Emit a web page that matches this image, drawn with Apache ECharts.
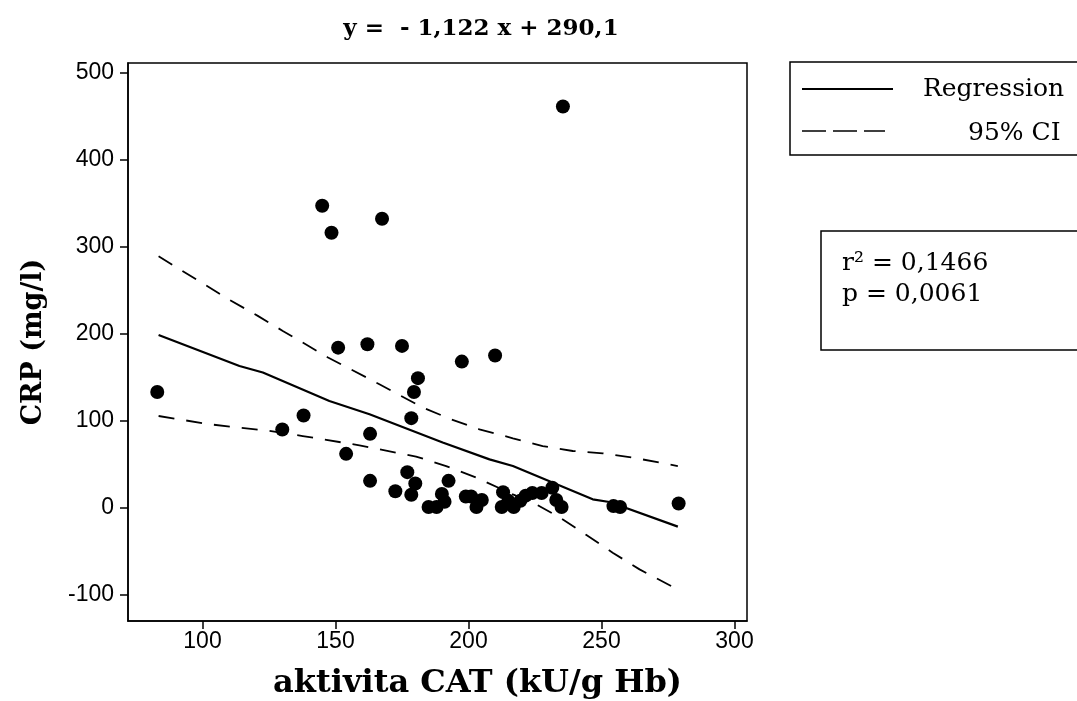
<!DOCTYPE html>
<html>
<head>
<meta charset="utf-8">
<script src="https://cdn.jsdelivr.net/npm/echarts@6/dist/echarts.min.js"></script>
<style>
  html, body { margin: 0; padding: 0; background: #fff; }
  #chart { width: 1077px; height: 701px; }
</style>
</head>
<body>
<div id="chart"></div>
<script>
// aktivita CAT (kU/g Hb) vs CRP (mg/l)
var catX = [83, 138, 130, 145, 148.5, 151, 154, 163, 162, 163, 167.5, 175, 172.5, 177, 178.5,
  178.5, 179.5, 181, 180, 185, 188, 190, 191, 192.5, 197.5, 199, 201, 203, 205, 210,
  213, 212.5, 215, 217, 219.5, 221.5, 224, 227.5, 231.5, 233, 235, 235.5, 254.5, 257, 279];
var crp = [133, 106, 90, 347, 316, 184, 62, 85, 188, 31, 332, 186, 19, 41, 15,
  103, 133, 149, 28, 1, 1, 16, 7, 31, 168, 13, 13, 1, 9, 175,
  18, 1, 8, 1, 8, 14, 17, 17, 23, 9, 1, 461, 2, 1, 5];

// regression line and 95% CI
var regX = [83.5, 113.9, 122.7, 147.7, 162.8, 190.3, 207.9, 216.7, 246.7, 253, 278.7];
var regY = [198.6, 163, 155.4, 122.8, 107.5, 75, 55.7, 48, 9.8, 6.7, -21.6];
var ciUpX = [83.5, 99.5, 110.2, 120.8, 130.2, 140.2, 147, 166.5, 182.8, 193.5, 204.1, 216.7, 227.9, 239.2, 250.5, 261.8, 278.7];
var ciUpY = [289, 258.9, 238.9, 220.5, 203.2, 185.3, 173, 142, 115.2, 101.7, 90.2, 79.9, 71, 65.3, 62.6, 57.7, 48];
var ciLoX = [83.5, 102.6, 125.2, 137.7, 159, 180.3, 191.6, 202.9, 216.7, 225.5, 234.2, 244.2, 254.2, 264.3, 278.6];
var ciLoY = [105.5, 96, 88.3, 82.5, 71.8, 58.9, 48, 34.7, 15.5, 4, -10.9, -31, -51.5, -70.7, -93.7];

var xTicks = [100, 150, 200, 250, 300];
var yTicks = [-100, 0, 100, 200, 300, 400, 500];

function pairs(xs, ys) {
  return xs.map(function (x, i) { return [x, ys[i]]; });
}

var serif = 'DejaVu Serif';
var chart = echarts.init(document.getElementById('chart'));
chart.setOption({
  animation: false,
  backgroundColor: '#fff',
  title: {
    text: 'y =  - 1,122 x + 290,1',
    left: 476, top: 13, textAlign: 'center',
    textStyle: { fontFamily: serif, fontWeight: 'bold', fontSize: 23, color: '#000' }
  },
  grid: {
    left: 128, right: 330, top: 63, bottom: 80,
    outerBoundsMode: 'none',
    show: true, borderColor: '#000', borderWidth: 1.5, backgroundColor: '#fff'
  },
  xAxis: {
    type: 'value', min: 72, max: 304.7,
    name: 'aktivita CAT (kU/g Hb)', nameLocation: 'middle', nameGap: 47,
    nameTextStyle: { fontFamily: serif, fontWeight: 'bold', fontSize: 32, color: '#000', padding: [0, 0, 0, 80] },
    axisLine: { show: true, onZero: false, lineStyle: { color: '#000', width: 1.5 } },
    axisTick: { show: true, length: 8, customValues: xTicks, lineStyle: { color: '#000', width: 1.5 } },
    axisLabel: { customValues: xTicks, margin: 9, fontFamily: 'Liberation Sans', fontSize: 23, color: '#000' },
    splitLine: { show: false }
  },
  yAxis: {
    type: 'value', min: -130, max: 511,
    name: 'CRP (mg/l)', nameLocation: 'middle', nameGap: 81, nameRotate: 90,
    nameTextStyle: { fontFamily: serif, fontWeight: 'bold', fontSize: 27, color: '#000' },
    axisLine: { show: true, onZero: false, lineStyle: { color: '#000', width: 1.5 } },
    axisTick: { show: true, length: 8, customValues: yTicks, lineStyle: { color: '#000', width: 1.5 } },
    axisLabel: { customValues: yTicks, margin: 14, fontFamily: 'Liberation Sans', fontSize: 23, color: '#000' },
    splitLine: { show: false }
  },
  series: [
    {
      name: 'Regression', type: 'line', data: pairs(regX, regY),
      showSymbol: false, lineStyle: { color: '#000', width: 2.2 }, z: 2
    },
    {
      name: '95% CI upper', type: 'line', data: pairs(ciUpX, ciUpY),
      showSymbol: false, lineStyle: { color: '#000', width: 1.8, type: [16, 12] }, z: 2
    },
    {
      name: '95% CI lower', type: 'line', data: pairs(ciLoX, ciLoY),
      showSymbol: false, lineStyle: { color: '#000', width: 1.8, type: [16, 12] }, z: 2
    },
    {
      name: 'data', type: 'scatter', data: pairs(catX, crp),
      symbol: 'circle', symbolSize: 14, itemStyle: { color: '#000', opacity: 1 }, z: 3
    }
  ],
  graphic: [
    { type: 'rect', shape: { x: 790, y: 62, width: 300, height: 93 },
      style: { fill: '#fff', stroke: '#000', lineWidth: 1.5 } },
    { type: 'line', shape: { x1: 802, y1: 89, x2: 893, y2: 89 },
      style: { stroke: '#000', lineWidth: 2 } },
    { type: 'text', x: 923, y: 89,
      style: { text: 'Regression', font: '25px "DejaVu Serif"', fill: '#000', verticalAlign: 'middle' } },
    { type: 'line', shape: { x1: 802, y1: 131, x2: 885, y2: 131 },
      style: { stroke: '#000', lineWidth: 1.5, lineDash: [24, 7] } },
    { type: 'text', x: 968, y: 133,
      style: { text: '95% CI', font: '25px "DejaVu Serif"', fill: '#000', verticalAlign: 'middle' } },
    { type: 'rect', shape: { x: 821, y: 231, width: 300, height: 119 },
      style: { fill: '#fff', stroke: '#000', lineWidth: 1.5 } },
    { type: 'text', x: 842, y: 263,
      style: { text: 'r² = 0,1466', font: '25px "DejaVu Serif"', fill: '#000', verticalAlign: 'middle' } },
    { type: 'text', x: 842, y: 294,
      style: { text: 'p = 0,0061', font: '25px "DejaVu Serif"', fill: '#000', verticalAlign: 'middle' } }
  ]
});
</script>
</body>
</html>
